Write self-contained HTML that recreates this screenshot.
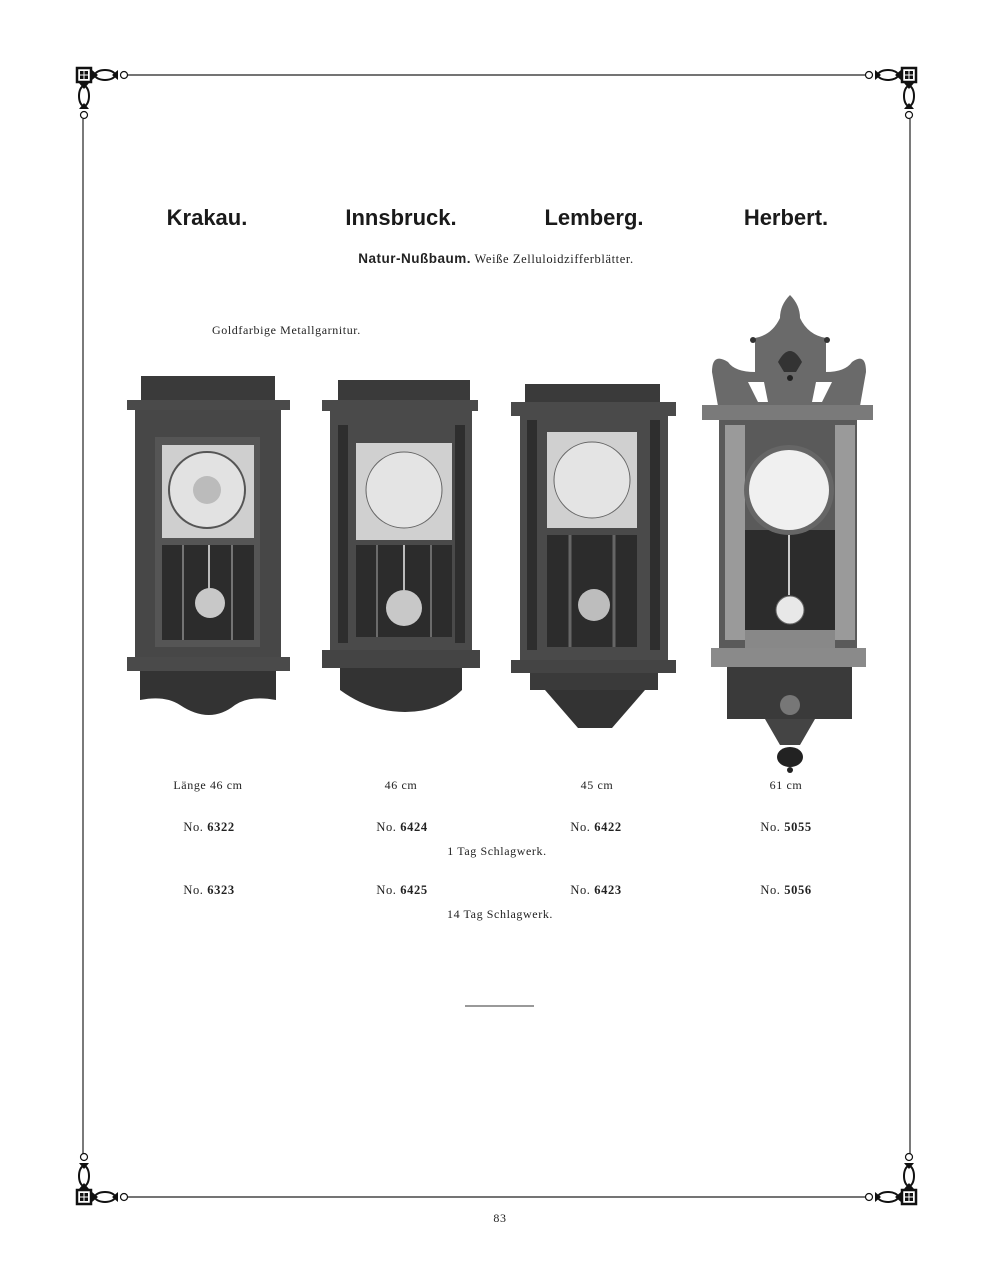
<!DOCTYPE html>
<html><head><meta charset="utf-8"><style>
body{margin:0;background:#fff}
svg{display:block}
.t{font-family:"Liberation Sans",sans-serif;font-weight:bold;font-size:22px;fill:#1a1a1a}
.s{font-family:"Liberation Serif",serif;font-size:12px;fill:#222;letter-spacing:0.6px}
.b{font-family:"Liberation Serif",serif;font-size:12.5px;fill:#222;letter-spacing:0.6px}
</style></head><body>
<svg width="1005" height="1280" viewBox="0 0 1005 1280" xmlns="http://www.w3.org/2000/svg">
<defs>
<g id="corner">
<rect x="-7" y="-7" width="14" height="14" fill="#fff" stroke="#111" stroke-width="2.5"/>
<rect x="-4" y="-4" width="3.5" height="3.5" fill="#111"/><rect x="0.5" y="-4" width="3.5" height="3.5" fill="#111"/>
<rect x="-4" y="0.5" width="3.5" height="3.5" fill="#111"/><rect x="0.5" y="0.5" width="3.5" height="3.5" fill="#111"/>
<path d="M8,-5 L14,0 L8,5Z M34,-5 L28,0 L34,5Z" fill="#111"/>
<ellipse cx="21" cy="0" rx="10" ry="5" fill="none" stroke="#111" stroke-width="2"/>
<circle cx="40" cy="0" r="3.5" fill="#fff" stroke="#111" stroke-width="1.2"/>
<path d="M-5,8 L0,14 L5,8Z M-5,34 L0,28 L5,34Z" fill="#111"/>
<ellipse cx="0" cy="21" rx="5" ry="10" fill="none" stroke="#111" stroke-width="2"/>
<circle cx="0" cy="40" r="3.5" fill="#fff" stroke="#111" stroke-width="1.2"/>
</g>
</defs>
<g stroke="#222" stroke-width="1.2">
<line x1="127" y1="75" x2="865" y2="75"/><line x1="127" y1="1197" x2="865" y2="1197"/>
<line x1="83" y1="119" x2="83" y2="1154"/><line x1="910" y1="119" x2="910" y2="1154"/>
</g>
<use href="#corner" transform="translate(84,75)"/>
<use href="#corner" transform="translate(909,75) scale(-1,1)"/>
<use href="#corner" transform="translate(84,1197) scale(1,-1)"/>
<use href="#corner" transform="translate(909,1197) scale(-1,-1)"/>

<text class="t" x="207" y="225" text-anchor="middle">Krakau.</text>
<text class="t" x="401" y="225" text-anchor="middle">Innsbruck.</text>
<text class="t" x="594" y="225" text-anchor="middle">Lemberg.</text>
<text class="t" x="786" y="225" text-anchor="middle">Herbert.</text>
<text x="496" y="263" text-anchor="middle" class="b" font-size="13.5" letter-spacing="1"><tspan font-family="Liberation Sans" font-weight="bold" font-size="13.5" letter-spacing="0.5">Natur-Nußbaum.</tspan>  Weiße Zelluloidzifferblätter.</text>
<text class="s" x="212" y="334">Goldfarbige Metallgarnitur.</text>

<!-- Krakau -->
<g>
<rect x="141" y="376" width="134" height="26" fill="#3a3a3a"/>
<rect x="127" y="400" width="163" height="10" fill="#4a4a4a"/>
<rect x="135" y="410" width="146" height="250" fill="#474747"/>
<rect x="155" y="437" width="105" height="210" fill="#555"/>
<rect x="162" y="445" width="92" height="93" fill="#cfcfcf"/>
<circle cx="207" cy="490" r="38" fill="#e2e2e2" stroke="#555" stroke-width="2"/>
<circle cx="207" cy="490" r="14" fill="#bbb"/>
<rect x="162" y="545" width="92" height="95" fill="#2c2c2c"/>
<line x1="183" y1="545" x2="183" y2="640" stroke="#bbb"/><line x1="232" y1="545" x2="232" y2="640" stroke="#bbb"/>
<line x1="209" y1="545" x2="209" y2="600" stroke="#bbb" stroke-width="2"/>
<circle cx="210" cy="603" r="15" fill="#c8c8c8"/>
<rect x="127" y="657" width="163" height="14" fill="#4a4a4a"/>
<path d="M140,671 H276 V700 Q250,695 235,705 Q210,725 180,705 Q165,695 140,700Z" fill="#333"/>
</g>
<!-- Innsbruck -->
<g>
<rect x="338" y="380" width="132" height="22" fill="#3a3a3a"/>
<rect x="322" y="400" width="156" height="11" fill="#4a4a4a"/>
<rect x="330" y="411" width="142" height="246" fill="#4a4a4a"/>
<rect x="338" y="425" width="10" height="218" fill="#2e2e2e"/><rect x="455" y="425" width="10" height="218" fill="#2e2e2e"/>
<rect x="356" y="443" width="96" height="97" fill="#d0d0d0"/>
<circle cx="404" cy="490" r="38" fill="#e4e4e4" stroke="#666"/>
<rect x="356" y="545" width="96" height="92" fill="#2c2c2c"/>
<line x1="377" y1="545" x2="377" y2="637" stroke="#aaa"/><line x1="431" y1="545" x2="431" y2="637" stroke="#aaa"/>
<line x1="404" y1="545" x2="404" y2="590" stroke="#bbb" stroke-width="2"/>
<circle cx="404" cy="608" r="18" fill="#c8c8c8"/>
<rect x="322" y="650" width="158" height="18" fill="#444"/>
<path d="M340,668 H462 V690 Q440,712 405,712 Q370,712 340,690Z" fill="#333"/>
</g>
<!-- Lemberg -->
<g>
<rect x="525" y="384" width="135" height="19" fill="#3a3a3a"/>
<rect x="511" y="402" width="165" height="14" fill="#4a4a4a"/>
<rect x="520" y="416" width="148" height="248" fill="#4a4a4a"/>
<rect x="527" y="420" width="10" height="230" fill="#2e2e2e"/><rect x="650" y="420" width="10" height="230" fill="#2e2e2e"/>
<rect x="547" y="432" width="90" height="96" fill="#d0d0d0"/>
<circle cx="592" cy="480" r="38" fill="#e4e4e4" stroke="#666"/>
<rect x="547" y="535" width="90" height="112" fill="#2c2c2c"/>
<line x1="570" y1="535" x2="570" y2="647" stroke="#666" stroke-width="3"/><line x1="614" y1="535" x2="614" y2="647" stroke="#666" stroke-width="3"/>
<circle cx="594" cy="605" r="16" fill="#bdbdbd"/>
<rect x="511" y="660" width="165" height="13" fill="#444"/>
<rect x="530" y="673" width="128" height="17" fill="#3a3a3a"/>
<path d="M545,690 H645 L612,728 H578Z" fill="#333"/>
</g>
<!-- Herbert -->
<g>
<path d="M790,295 Q800,305 800,318 Q808,335 826,338 L826,372 Q845,372 852,362 Q866,352 866,372 L860,406 H718 L712,372 Q712,352 728,362 Q735,372 755,372 L755,338 Q772,335 780,318 Q780,305 790,295Z" fill="#6a6a6a"/>
<path d="M748,382 L758,402 H768 L764,382Z M816,382 L812,402 H822 L832,382Z" fill="#fff"/>
<path d="M778,362 Q790,340 802,362 L796,372 H784Z" fill="#333"/>
<circle cx="790" cy="378" r="3" fill="#222"/>
<circle cx="753" cy="340" r="3" fill="#333"/><circle cx="827" cy="340" r="3" fill="#333"/>
<rect x="702" y="405" width="171" height="15" fill="#7a7a7a"/>
<rect x="719" y="420" width="138" height="230" fill="#5a5a5a"/>
<rect x="725" y="425" width="20" height="215" fill="#9a9a9a"/><rect x="835" y="425" width="20" height="215" fill="#9a9a9a"/>
<rect x="745" y="530" width="90" height="100" fill="#2c2c2c"/>
<circle cx="789" cy="490" r="45" fill="#666"/>
<circle cx="789" cy="490" r="40" fill="#f0f0f0"/>
<line x1="789" y1="535" x2="789" y2="595" stroke="#ccc" stroke-width="2"/>
<circle cx="790" cy="610" r="14" fill="#e8e8e8" stroke="#666"/>
<rect x="745" y="630" width="90" height="18" fill="#888"/>
<rect x="711" y="648" width="155" height="19" fill="#8a8a8a"/>
<rect x="727" y="667" width="125" height="52" fill="#3a3a3a"/>
<path d="M765,719 H815 L800,745 H780Z" fill="#444"/>
<circle cx="790" cy="705" r="10" fill="#777"/>
<ellipse cx="790" cy="757" rx="13" ry="10" fill="#222"/>
<circle cx="790" cy="770" r="3" fill="#222"/>
</g>

<g class="s" text-anchor="middle">
<text x="208" y="789">Länge 46 cm</text><text x="401" y="789">46 cm</text><text x="597" y="789">45 cm</text><text x="786" y="789">61 cm</text>
</g>
<g class="b" text-anchor="middle">
<text x="209" y="831">No. <tspan font-weight="bold">6322</tspan></text><text x="402" y="831">No. <tspan font-weight="bold">6424</tspan></text><text x="596" y="831">No. <tspan font-weight="bold">6422</tspan></text><text x="786" y="831">No. <tspan font-weight="bold">5055</tspan></text>
<text x="497" y="855" font-size="12">1 Tag Schlagwerk.</text>
<text x="209" y="894">No. <tspan font-weight="bold">6323</tspan></text><text x="402" y="894">No. <tspan font-weight="bold">6425</tspan></text><text x="596" y="894">No. <tspan font-weight="bold">6423</tspan></text><text x="786" y="894">No. <tspan font-weight="bold">5056</tspan></text>
<text x="500" y="918" font-size="12">14 Tag Schlagwerk.</text>
</g>
<line x1="465" y1="1006" x2="534" y2="1006" stroke="#333" stroke-width="1"/>
<text class="s" x="500" y="1222" text-anchor="middle" font-size="11">83</text>
</svg>
</body></html>
